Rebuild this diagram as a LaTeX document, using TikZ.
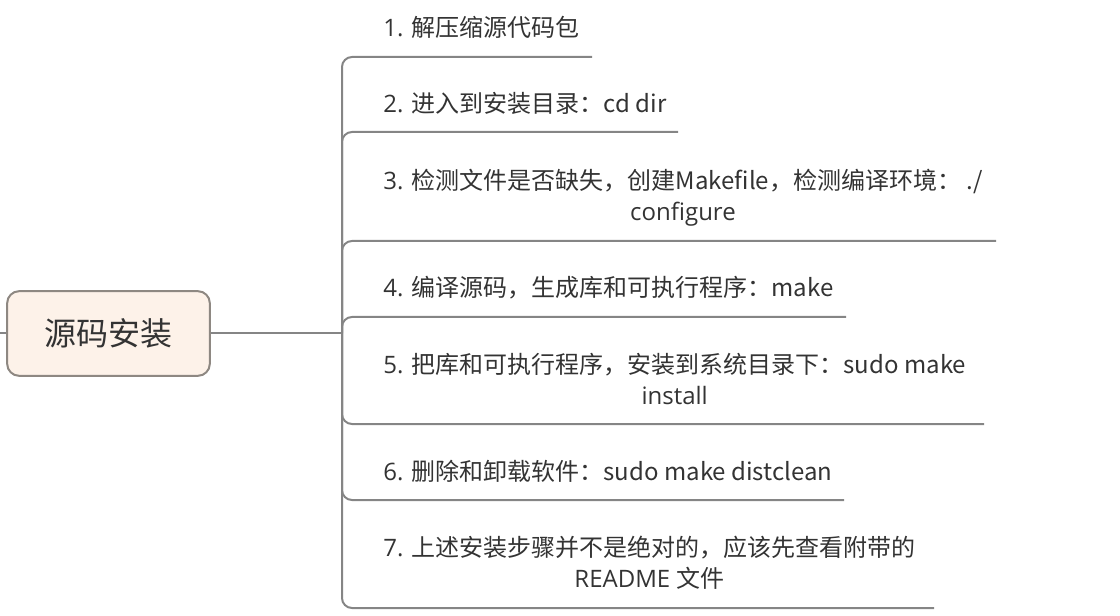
\documentclass[tikz,border=0pt]{standalone}
\usepackage{fontspec}
\setmainfont{Open Sans}
\newfontfamily\cjk{Noto Sans CJK SC}
\usepackage{tikz}
\usetikzlibrary{calc,backgrounds}
\definecolor{linegray}{HTML}{858585}
\definecolor{rootfill}{HTML}{FDF2E9}
\definecolor{rootdraw}{HTML}{8E8882}
\definecolor{txt}{HTML}{333333}
\tikzset{
  branch/.style={draw=linegray, line width=1.5pt, rounded corners=7.5pt},
  rootbox/.style={draw=rootdraw, fill=rootfill, line width=1.5pt, rounded corners=9pt,
    minimum width=152pt, minimum height=63.5pt, text=txt, font=\cjk\fontsize{24}{28}\selectfont},
  item/.style={anchor=west, inner sep=0pt, align=center, text=txt,
    font=\fontsize{18}{23.25}\selectfont}
}
\begin{document}
\begin{tikzpicture}[x=0.75pt,y=-0.75pt]
\useasboundingbox (0,0) rectangle (1120,616);
\node[rootbox] (root) at (108.5,333.5) {源码安装};
\coordinate (lstub) at (0,333.5);
\coordinate (hub) at (342,333.5);
% steps
\node[item] (s1) at (383,27) {1. \cjk{解压缩源代码包}};
\node[item] (s2) at (383,103) {2. \cjk{进入到安装目录：}cd dir};
\node[item] (s3) at (383,198) {3. \cjk{检测文件是否缺失，创建}Makefile\cjk{，检测编译环境：} ./\\configure};
\node[item] (s4) at (383,288) {4. \cjk{编译源码，生成库和可执行程序：}make};
\node[item] (s5) at (383,379) {5. \cjk{把库和可执行程序，安装到系统目录下：}sudo make\\install};
\node[item] (s6) at (383,471) {6. \cjk{删除和卸载软件：}sudo make distclean};
\node[item] (s7) at (383,563) {7. \cjk{上述安装步骤并不是绝对的，应该先查看附带的}\\README \cjk{文件}};
% underline ends
\coordinate (e1) at (592,57);
\coordinate (e2) at (678,132);
\coordinate (e3) at (996,241);
\coordinate (e4) at (846,317);
\coordinate (e5) at (984,424);
\coordinate (e6) at (844,500);
\coordinate (e7) at (934,608);
\begin{scope}[on background layer]
\draw[branch] (lstub) -- (root.west);
\draw[branch] (root.east) -- (hub);
\foreach \i in {1,...,7}
  \draw[branch] (hub) |- (e\i);
\end{scope}
\end{tikzpicture}
\end{document}
